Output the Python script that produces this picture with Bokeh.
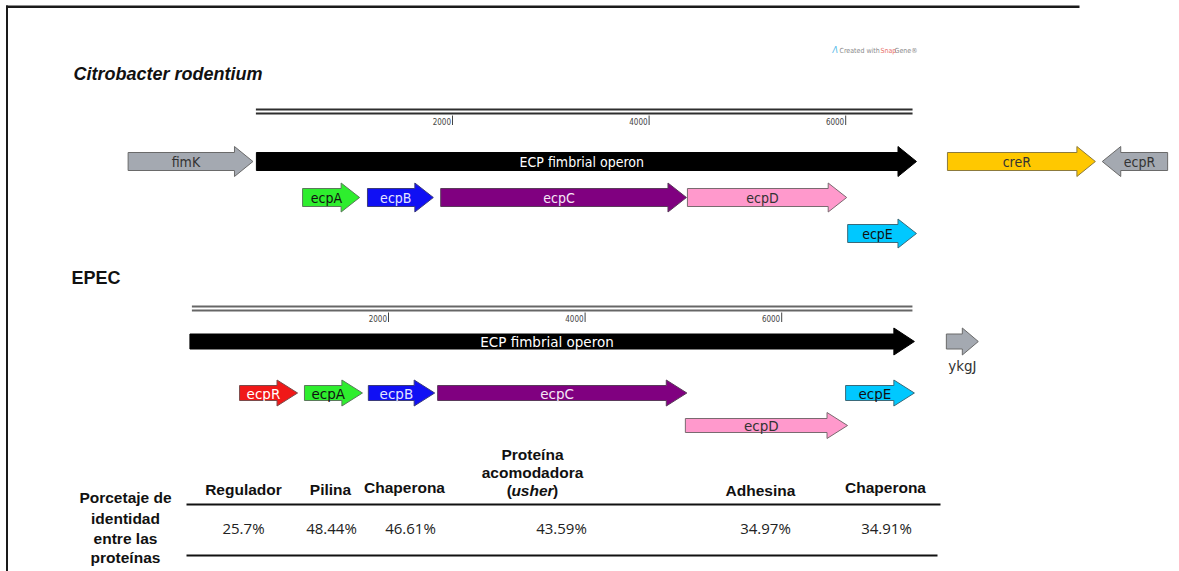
from bokeh.plotting import figure
from bokeh.models import Range1d, ColumnDataSource
from bokeh.embed import file_html
from bokeh.resources import INLINE
from bokeh.core.properties import value

W, H = 1179, 571

# ---------------- data (positions in bp) ----------------
citro_genes = ["fimK", "ECP fimbrial operon", "creR", "ecpR",
               "ecpA", "ecpB", "ecpC", "ecpD", "ecpE"]
citro_start = [-1300, 5, 7035, 8610, 475, 1135, 1880, 4390, 6020]
citro_end = [-30, 6720, 8540, 9275, 1055, 1805, 4380, 6010, 6720]
citro_strand = [1, 1, 1, -1, 1, 1, 1, 1, 1]
citro_length = 6680

epec_genes = ["ECP fimbrial operon", "ykgJ", "ecpR", "ecpA", "ecpB",
              "ecpC", "ecpD", "ecpE"]
epec_start = [-20, 7675, 485, 1145, 1795, 2500, 5020, 6650]
epec_end = [7350, 8000, 1075, 1735, 2470, 5035, 6670, 7350]
epec_strand = [1, 1, 1, 1, 1, 1, 1, 1]
epec_length = 7330

ruler_ticks = [2000, 4000, 6000]

protein_roles = ["Regulador", "Pilina", "Chaperona",
                 "Proteína acomodadora (usher)", "Adhesina", "Chaperona"]
identity_pct = [25.7, 48.44, 46.61, 43.59, 34.97, 34.91]

# ---------------- styles ----------------
GENE_STYLE = {
    # name: (fill, outline, label colour)
    "fimK": ("#a4a9b1", "#6a6a6a", "#333333"),
    "ECP fimbrial operon": ("#000000", "#000000", "#ffffff"),
    "creR": ("#ffc800", "#8c7a3c", "#333333"),
    "ecpR_c": ("#a4a9b1", "#6a6a6a", "#333333"),
    "ecpR_e": ("#f01818", "#7a4a4a", "#ffffff"),
    "ecpA": ("#2eee2e", "#5a7a5a", "#111111"),
    "ecpB": ("#1010f4", "#3a3a7a", "#e4e4ff"),
    "ecpC": ("#800080", "#5a3a5a", "#f6e6f6"),
    "ecpD": ("#ff99cc", "#7a6a70", "#333333"),
    "ecpE": ("#00c8ff", "#3a6a7a", "#111111"),
    "ykgJ": ("#a4a9b1", "#6a6a6a", "#333333"),
}

# lane of each gene; lane geometry = (centre y, half body height, half head height)
CITRO_LANES = {"fimK": 0, "ECP fimbrial operon": 0, "creR": 0, "ecpR": 0,
               "ecpA": 1, "ecpB": 1, "ecpC": 1, "ecpD": 1, "ecpE": 2}
CITRO_LANE_GEOM = [(161, 9, 15), (197, 9, 14.5), (233, 9, 14.5)]
EPEC_LANES = {"ECP fimbrial operon": 0, "ykgJ": 0, "ecpR": 1, "ecpA": 1,
              "ecpB": 1, "ecpC": 1, "ecpD": 2, "ecpE": 1}
EPEC_LANE_GEOM = [(341, 7.5, 13.5), (392.5, 7.5, 13), (425, 7, 13)]

PX_PER_BP = 0.0983
CITRO_ORIGIN = 255.4   # screen x of bp 0, C. rodentium map
EPEC_ORIGIN = 191.4    # screen x of bp 0, EPEC map

p = figure(width=W, height=H, x_range=Range1d(0, W), y_range=Range1d(H, 0),
           output_backend="svg", toolbar_location=None, min_border=0,
           x_axis_type=None, y_axis_type=None)
p.xgrid.visible = False
p.ygrid.visible = False
p.outline_line_color = None
p.background_fill_color = "white"
p.border_fill_color = "white"

p.extra_x_ranges = {
    "citro": Range1d(-CITRO_ORIGIN / PX_PER_BP, (W - CITRO_ORIGIN) / PX_PER_BP),
    "epec": Range1d(-EPEC_ORIGIN / PX_PER_BP, (W - EPEC_ORIGIN) / PX_PER_BP),
}

# frame: top and left edges as thin filled bars
p.quad(left=[5.5, 5.5], right=[W - 100, 7.5], top=[5, 5], bottom=[7.5, H],
       fill_color="#1a1a1a", line_color=None)


def arrow(start, end, strand, yc, hb, hh, head):
    h = min(head, 0.5 * (end - start))
    if strand > 0:
        n = end - h
        xs = [start, n, n, end, n, n, start]
        lx = (start + end - h / 2) / 2
    else:
        n = start + h
        xs = [end, n, n, start, n, n, end]
        lx = (start + end + h / 2) / 2
    ys = [yc - hb, yc - hb, yc - hh, yc, yc + hh, yc + hb, yc + hb]
    return xs, ys, lx


def draw_track(names, starts, ends, strands, lanes, geom, head, rng, key_suffix,
               font, fsize, length, ruler_y, ruler_color, tick_y):
    xs, ys, fills, lines = [], [], [], []
    tx, ty, tt, tc = [], [], [], []
    for nm, s, e, d in zip(names, starts, ends, strands):
        yc, hb, hh = geom[lanes[nm]]
        ax, ay, lx = arrow(s, e, d, yc, hb, hh, head)
        key = nm + key_suffix if nm == "ecpR" else nm
        fill, line, lab = GENE_STYLE[key]
        xs.append(ax)
        ys.append(ay)
        fills.append(fill)
        lines.append(line)
        if nm != "ykgJ":
            tx.append(lx)
            ty.append(yc + 0.5)
            tt.append(nm)
            tc.append(lab)
    src = ColumnDataSource(dict(xs=xs, ys=ys, fill=fills, line=lines))
    p.patches("xs", "ys", source=src, fill_color="fill", line_color="line",
              line_width=1, x_range_name=rng)
    tsrc = ColumnDataSource(dict(x=tx, y=ty, text=tt, color=tc))
    p.text("x", "y", text="text", source=tsrc, text_color="color",
           text_align="center", text_baseline="middle",
           text_font=value(font), text_font_size=fsize, x_range_name=rng)
    # ruler: double line with ticks
    for yy in ruler_y:
        p.segment(x0=[0], x1=[length], y0=[yy], y1=[yy], line_color=ruler_color,
                  line_width=1.8, x_range_name=rng)
    p.segment(x0=ruler_ticks, x1=ruler_ticks, y0=[tick_y[0]] * 3, y1=[tick_y[1]] * 3,
              line_color="#444444", line_width=1, x_range_name=rng)
    p.text(x=ruler_ticks, y=[tick_y[1]] * 3, text=[str(t) for t in ruler_ticks],
           text_align="right", text_baseline="bottom", x_offset=-1.5,
           text_font=value("DejaVu Sans Condensed"), text_font_size="8px",
           text_color="#444444", x_range_name=rng)


draw_track(citro_genes, citro_start, citro_end, citro_strand, CITRO_LANES,
           CITRO_LANE_GEOM, 188, "citro", "_c", "DejaVu Sans Condensed", "14px",
           citro_length, [109, 113], "#2e2e2e", (115, 124.5))
draw_track(epec_genes, epec_start, epec_end, epec_strand, EPEC_LANES,
           EPEC_LANE_GEOM, 209, "epec", "_e", "DejaVu Sans", "13.5px",
           epec_length, [306, 310], "#666666", (312, 321.5))

# label under ykgJ
ykg = epec_genes.index("ykgJ")
p.text(x=[(epec_start[ykg] + epec_end[ykg]) / 2], y=[365], text=["ykgJ"],
       text_align="center", text_baseline="middle", text_font=value("DejaVu Sans"),
       text_font_size="13.5px", text_color="#333333", x_range_name="epec")

# organism headings
p.text(x=[73], y=[73.5], text=["Citrobacter rodentium"], text_baseline="alphabetic",
       text_font=value("Liberation Sans"), text_font_style="bold italic",
       text_font_size="18px", text_color="#111111")
p.text(x=[71], y=[277], text=["EPEC"], text_baseline="alphabetic",
       text_font=value("Liberation Sans"), text_font_style="bold",
       text_font_size="18px", text_color="#111111")

# SnapGene watermark
p.text(x=[832], y=[50], text=["Λ"], text_baseline="middle",
       text_font=value("DejaVu Sans"), text_font_style="italic",
       text_font_size="8px", text_color="#4fb8e8")
p.text(x=[839, 880, 894], y=[50, 50, 50], text=["Created with", "Snap", "Gene®"],
       text_baseline="middle", text_font=value("DejaVu Sans Condensed"),
       text_font_size="7px", text_color=["#8a8a8a", "#e8706a", "#8a8a8a"])

# ---------------- identity table ----------------
HEAD_FONT = value("Liberation Sans")
p.text(x=[125] * 4, y=[497, 518, 538, 557],
       text=["Porcetaje de", "identidad", "entre las", "proteínas"],
       text_align="center", text_baseline="middle", text_font=HEAD_FONT,
       text_font_style="bold", text_font_size="15.5px", text_color="#111111")

head_x = [243, 330, 404, 532, 760, 885]
head_y = [489, 489, 487, 490, 490, 487]
val_x = [243, 331, 410, 561, 765, 886]
val_y = 527

single = [(r, x, y) for r, x, y in zip(protein_roles, head_x, head_y) if "(" not in r]
p.text(x=[s[1] for s in single], y=[s[2] for s in single], text=[s[0] for s in single],
       text_align="center", text_baseline="middle", text_font=HEAD_FONT,
       text_font_style="bold", text_font_size="15.5px", text_color="#111111")

# multi-line header with the italic term in brackets
mi = [i for i, r in enumerate(protein_roles) if "(" in r][0]
words = protein_roles[mi].split(" ")
mx, my = head_x[mi], head_y[mi]
p.text(x=[mx, mx], y=[my - 36, my - 18], text=words[:2],
       text_align="center", text_baseline="middle", text_font=HEAD_FONT,
       text_font_style="bold", text_font_size="15.5px", text_color="#111111")
term = words[2].strip("()")
p.text(x=[mx], y=[my], text=[term], text_align="center", text_baseline="middle",
       text_font=HEAD_FONT, text_font_style="bold italic", text_font_size="15.5px",
       text_color="#111111")
p.text(x=[mx - 20.5, mx + 20.5], y=[my, my], text=["(", ")"],
       text_align=["right", "left"], text_baseline="middle", text_font=HEAD_FONT,
       text_font_style="bold", text_font_size="15.5px", text_color="#111111")

p.segment(x0=[186, 186], x1=[940, 937], y0=[504, 555], y1=[504, 555],
          line_color="#111111", line_width=2)

p.text(x=val_x, y=[val_y] * len(val_x), text=[f"{v}%" for v in identity_pct],
       text_align="center", text_baseline="middle", text_font=value("Open Sans"),
       text_font_size="15px", text_color="#222222")

open("out.html", "w").write(file_html(p, INLINE))
